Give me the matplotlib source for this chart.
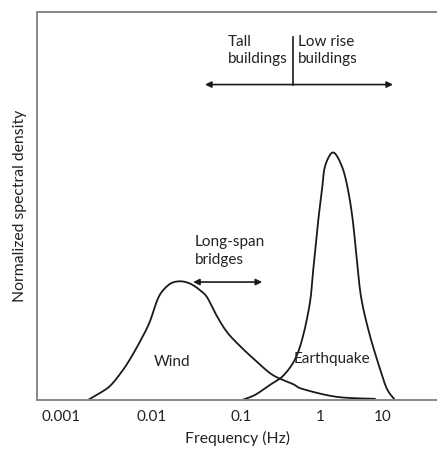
import numpy as np
import matplotlib
matplotlib.use('Agg')
import matplotlib.pyplot as plt

plt.rcParams['font.family'] = ['Lato', 'DejaVu Sans']

# Wind and earthquake spectra (frequency in Hz, normalized density)
wind_freq = [0.00198, 0.00268, 0.00345, 0.00445, 0.00573, 0.00796, 0.00951, 0.0108,
             0.0123, 0.0147, 0.0172, 0.0207, 0.0247, 0.0289, 0.0346, 0.0415, 0.0537,
             0.0696, 0.0975, 0.160, 0.254, 0.455, 0.610, 1.86, 7.46]
wind_psd = [0.0, 0.018, 0.036, 0.067, 0.105, 0.165, 0.203, 0.242, 0.272, 0.293, 0.303,
            0.306, 0.303, 0.296, 0.283, 0.265, 0.216, 0.175, 0.139, 0.098, 0.064, 0.041,
            0.028, 0.008, 0.003]

quake_freq = [0.103, 0.150, 0.233, 0.340, 0.483, 0.610, 0.747, 0.815, 0.944, 1.076, 1.20,
              1.61, 2.23, 2.78, 3.34, 4.01, 4.64, 6.22, 8.96, 11.6, 15.5]
quake_psd = [0.0, 0.013, 0.039, 0.062, 0.105, 0.165, 0.252, 0.329, 0.458, 0.542, 0.602,
             0.638, 0.602, 0.542, 0.458, 0.329, 0.252, 0.165, 0.080, 0.028, 0.0]

tick_vals = [0.001, 0.01, 0.1, 1, 10]
tick_labels = ['0.001', '0.01', '0.1', '1', '10']

# the drawing's decades are not evenly spaced, so map log10(f) piecewise
knots_log = np.array([-4, -3, -2, -1, 0, 1, 2], dtype=float)
knots_pos = np.array([-30, 61, 152, 241, 320, 383, 446], dtype=float)


def forward(x):
    x = np.asarray(x, dtype=float)
    lx = np.log10(np.clip(x, 1e-12, None))
    return np.interp(lx, knots_log, knots_pos)


def inverse(p):
    p = np.asarray(p, dtype=float)
    return 10 ** np.interp(p, knots_pos, knots_log)


def smooth(xs, ys, n=12):
    # Catmull-Rom through the read points, done in scale space so the pen line is round
    px = forward(xs)
    py = np.asarray(ys, dtype=float) * 388.0
    P = np.column_stack([px, py])
    P = np.vstack([P[0], P, P[-1]])
    out = []
    for i in range(1, len(P) - 2):
        p0, p1, p2, p3 = P[i - 1], P[i], P[i + 1], P[i + 2]
        for t in np.linspace(0, 1, n, endpoint=False):
            t2, t3 = t * t, t * t * t
            out.append(0.5 * ((2 * p1) + (-p0 + p2) * t +
                              (2 * p0 - 5 * p1 + 4 * p2 - p3) * t2 +
                              (-p0 + 3 * p1 - 3 * p2 + p3) * t3))
    out.append(P[-2])
    out = np.array(out)
    return inverse(out[:, 0]), out[:, 1] / 388.0


fig = plt.figure(figsize=(4.37, 4.53), dpi=100)
ax = fig.add_axes([0.0847, 0.117, 0.9153, 0.8565])
ax.set_xscale('function', functions=(forward, inverse))
ax.set_xlim(inverse(37), inverse(437))
ax.set_ylim(0, 1)

ink = '#1a1a1a'
txt = '#222222'
wx, wy = smooth(wind_freq, wind_psd)
qx, qy = smooth(quake_freq, quake_psd)
ax.plot(wx, wy, color=ink, lw=1.3, solid_capstyle='round')
ax.plot(qx, qy, color=ink, lw=1.3, solid_capstyle='round')

ax.set_xticks(tick_vals)
ax.set_xticklabels(tick_labels)
ax.xaxis.set_minor_locator(matplotlib.ticker.NullLocator())
ax.set_yticks([])
ax.tick_params(axis='x', length=0, pad=7, labelsize=11, labelcolor=txt)

for s in ['left', 'top', 'bottom']:
    ax.spines[s].set_color('#888888')
    ax.spines[s].set_linewidth(1.4)
ax.spines['right'].set_visible(False)

ax.set_xlabel('Frequency (Hz)', fontsize=11.3, color=txt, labelpad=5)
ax.set_ylabel('Normalized spectral density', fontsize=11.3, color=txt, labelpad=7)

arrow = dict(arrowstyle='<|-|>', color=ink, lw=1.2, mutation_scale=9, shrinkA=0, shrinkB=0)

# building ranges
ax.annotate('', xy=(0.0394, 0.813), xytext=(14.4, 0.813), arrowprops=arrow)
ax.plot([0.455, 0.455], [0.813, 0.936], color=ink, lw=1.2)
ax.text(0.0714, 0.942, 'Tall\nbuildings', fontsize=11, color=txt,
        ha='left', va='top', linespacing=1.3)
ax.text(0.52, 0.942, 'Low rise\nbuildings', fontsize=11, color=txt,
        ha='left', va='top', linespacing=1.3)

# bridges
ax.annotate('', xy=(0.029, 0.304), xytext=(0.185, 0.304), arrowprops=arrow)
ax.text(0.0304, 0.424, 'Long-span\nbridges', fontsize=11, color=txt,
        ha='left', va='top', linespacing=1.3)

ax.text(0.0168, 0.098, 'Wind', fontsize=11, color=txt, ha='center', va='center')
ax.text(1.55, 0.106, 'Earthquake', fontsize=11, color=txt, ha='center', va='center')

fig.savefig('out.png', dpi=100)
